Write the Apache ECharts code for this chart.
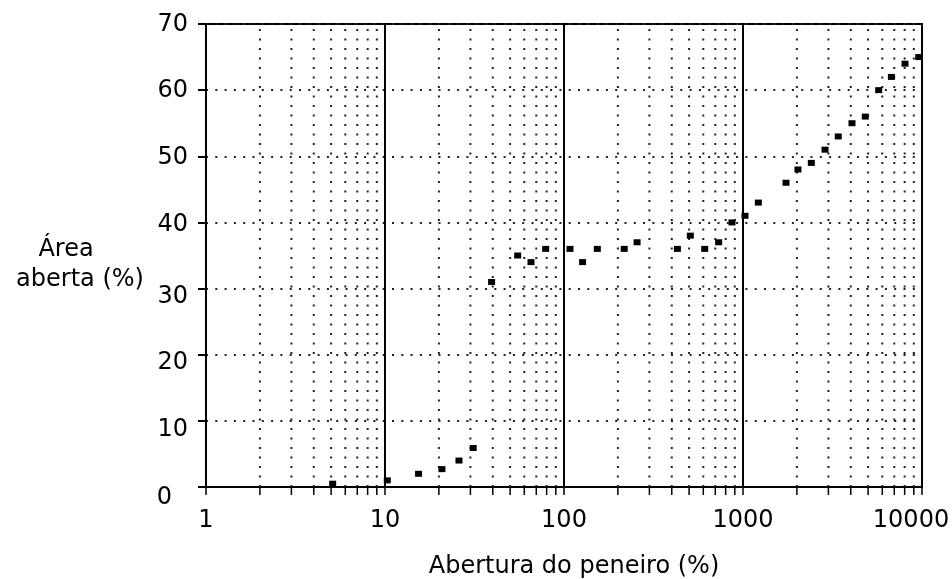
<!DOCTYPE html>
<html><head><meta charset="utf-8">
<script src="https://cdn.jsdelivr.net/npm/echarts@6/dist/echarts.min.js"></script>
<style>html,body{margin:0;padding:0;background:#fff}#c{width:952px;height:579px}</style>
</head><body><div id="c"></div>
<script>
// ---- data ----
const xTickValues = [1, 10, 100, 1000, 10000];
const xTickLabels = ['1', '10', '100', '1000', '10000'];
const yTickValues = [0, 10, 20, 30, 40, 50, 60, 70];
const yTickLabels = ['0', '10', '20', '30', '40', '50', '60', '70'];
const aberturaPeneiro = [5.1, 10.3, 15.4, 20.8, 25.9, 31.1, 39.4, 55.1, 65.4, 79, 108, 127, 153.5, 217, 256, 430, 508, 611, 731, 868, 1026, 1218, 1739, 2028, 2408, 2872, 3406, 4063, 4821, 5730, 6745, 8036, 9589];
const areaAberta = [0.5, 1, 2, 2.7, 4, 5.9, 31, 35, 34, 36, 36, 34, 36, 36, 37, 36, 38, 36, 37, 40, 41, 43, 46, 48, 49, 51, 53, 55, 56, 60, 62, 64, 65];
const decadeStarts = [1, 10, 100, 1000];
const minorMultipliers = [2, 3, 4, 5, 6, 7, 8, 9];
const xName = 'Abertura do peneiro (%)';
const yNameLines = ['Área', 'aberta (%)'];

// ---- derived ----
const minorTicks = [];
decadeStarts.forEach(d => minorMultipliers.forEach(m => minorTicks.push(d * m)));
const points = aberturaPeneiro.map((x, i) => [x, areaAberta[i]]);
const yMin = yTickValues[0], yMax = yTickValues[yTickValues.length - 1];

const FONT = '"DejaVu Sans", sans-serif';
const INK = '#000';

// per-label style tweaks (scan offsets of the original figure)
const yLabelShift = {0: [11, 16], 10: [9, 0], 20: [8, 0], 30: [8, 0], 40: [2, 0], 50: [1, 0], 60: [1, 0], 70: [1, 0]};
const yRich = {};
yTickValues.forEach(v => {
  const s = yLabelShift[v];
  yRich['y' + v] = {fontFamily: FONT, fontSize: 24, color: INK, padding: [2 * s[0], s[1], 0, 0]};
});
const xRich = {};
xTickValues.forEach((v, i) => {
  xRich['x' + i] = {fontFamily: FONT, fontSize: 24, color: INK, padding: [0, i === xTickValues.length - 1 ? 22 : 0, 0, 0]};
});

const chart = echarts.init(document.getElementById('c'), null, {renderer: 'canvas'});
chart.setOption({
  backgroundColor: '#fff',
  animation: false,
  grid: {left: 206, right: 30, top: 24, bottom: 92, containLabel: false, outerBoundsMode: 'none',
         show: true, borderColor: '#000', borderWidth: 2, backgroundColor: 'transparent'},
  xAxis: {
    type: 'log', logBase: 10, min: xTickValues[0], max: xTickValues[xTickValues.length - 1],
    name: xName, nameLocation: 'middle', nameGap: 68,
    nameTextStyle: {fontFamily: FONT, fontSize: 24, color: INK, padding: [0, 0, 0, 20]},
    axisLine: {show: true, lineStyle: {color: '#000', width: 2}},
    axisTick: {show: true, inside: false, length: 8, lineStyle: {color: '#000', width: 1.5}},
    axisLabel: {
      margin: 22,
      formatter: v => {
        const i = xTickValues.findIndex(t => Math.abs(t - v) / t < 1e-6);
        return i < 0 ? '' : '{x' + i + '|' + xTickLabels[i] + '}';
      },
      rich: xRich
    },
    splitLine: {show: true, lineStyle: {color: '#000', width: 2, type: 'solid'}},
    minorTick: {show: false}
  },
  yAxis: {
    type: 'value', min: yMin, max: yMax, interval: 10,
    axisLine: {show: true, lineStyle: {color: '#000', width: 2}},
    axisTick: {show: true, inside: false, length: 8, lineStyle: {color: '#000', width: 2}},
    axisLabel: {
      margin: 18,
      formatter: v => {
        const i = yTickValues.indexOf(v);
        return i < 0 ? '' : '{y' + v + '|' + yTickLabels[i] + '}';
      },
      rich: yRich
    },
    splitLine: {show: true, lineStyle: {color: '#222', width: 2, type: [2, 7.3]}}
  },
  graphic: [
    {type: 'text', x: 66, y: 250, style: {text: yNameLines[0], font: '24px ' + FONT, fill: INK, align: 'center', verticalAlign: 'middle'}},
    {type: 'text', x: 80, y: 280, style: {text: yNameLines[1], font: '24px ' + FONT, fill: INK, align: 'center', verticalAlign: 'middle'}}
  ],
  series: [
    {
      type: 'custom', clip: false, silent: true, z: 1,
      data: minorTicks.map(v => [v, yMin]),
      encode: {x: 0, y: 1},
      renderItem(params, api) {
        const b = api.coord([api.value(0), yMin]);
        const t = api.coord([api.value(0), yMax]);
        return {type: 'group', children: [
          {type: 'line', shape: {x1: b[0], y1: b[1], x2: t[0], y2: t[1]}, style: {stroke: '#222', lineWidth: 2, lineDash: [2, 7.5]}},
          {type: 'line', shape: {x1: b[0], y1: b[1], x2: b[0], y2: b[1] + 8}, style: {stroke: '#000', lineWidth: 1.5}}
        ]};
      }
    },
    {
      type: 'scatter', z: 5,
      data: points,
      symbol: 'rect', symbolSize: [7, 6],
      itemStyle: {color: '#000', opacity: 1}
    }
  ]
});
</script></body></html>
